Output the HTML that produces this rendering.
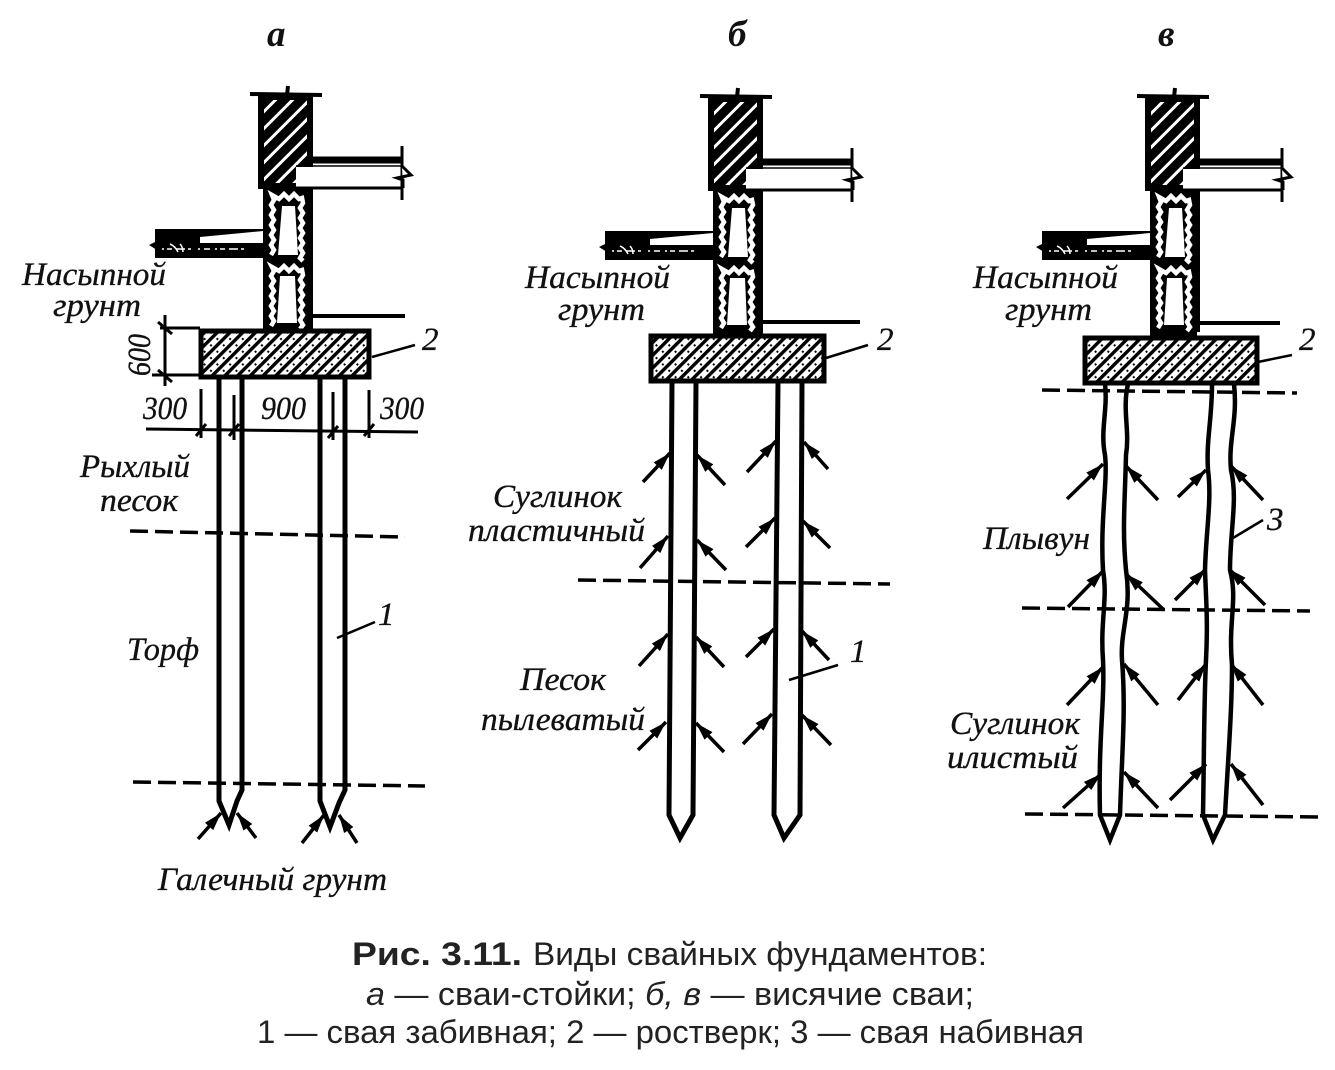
<!DOCTYPE html>
<html><head><meta charset="utf-8"><style>html,body{margin:0;padding:0;background:#fff}svg{display:block}
.l{font-family:"Liberation Serif",serif;font-style:italic;font-size:33px;fill:#111;stroke:#111;stroke-width:.35}
.c{font-family:"Liberation Sans",sans-serif;font-size:32px;fill:#222}
.h{font-family:"Liberation Serif",serif;font-style:italic;font-weight:bold;font-size:37px;fill:#111}
.a{stroke:#000;stroke-width:3.5;fill:none;marker-end:url(#ah)}
.d{stroke:#000;stroke-width:3.5;fill:none;stroke-dasharray:18 7}
</style></head><body>
<svg width="1335" height="1070" viewBox="0 0 1335 1070" xmlns="http://www.w3.org/2000/svg">
<defs>
<marker id="ah" viewBox="0 0 18 12" refX="18" refY="6" markerWidth="18" markerHeight="12" markerUnits="userSpaceOnUse" orient="auto"><path d="M0 0.5L18 6L0 11.5Z" fill="#000"/></marker>
<pattern id="brick" width="12" height="12" patternUnits="userSpaceOnUse" patternTransform="rotate(-45)"><rect width="12" height="12" fill="#000"/><rect width="12" height="3" fill="#fff"/></pattern>
<pattern id="conc" width="9" height="9" patternUnits="userSpaceOnUse" patternTransform="rotate(-45)"><rect width="9" height="9" fill="#fff"/><rect width="9" height="3.4" fill="#000"/><rect x="3" y="5.4" width="2" height="2" fill="#000"/></pattern>
<g id="wall">
<path d="M250 94L322 95" stroke="#000" stroke-width="4"/>
<path d="M288 86L287 95" stroke="#000" stroke-width="4"/>
<rect x="258" y="94" width="55" height="95" fill="#000"/>
<rect x="264" y="100" width="43" height="83" fill="url(#brick)"/>
<rect x="296" y="167" width="105" height="20" fill="#fff"/>
<path d="M296 166H402" stroke="#000" stroke-width="1.5"/>
<path d="M313 160H402" stroke="#000" stroke-width="7"/>
<path d="M296 188H402" stroke="#000" stroke-width="3"/>
<rect x="263" y="188" width="50" height="142" fill="#000"/>
<g fill="none" stroke="#fff" stroke-width="4.5">
<path d="M271 255l3-5-3-5 3-5-3-5 3-5-3-5 3-5-3-5 3-5-3-5 3-5-2-5 7 4 5-5 5 5 5-5 5 5 3-1 1 5-3 5 3 5-3 5 3 5-3 5 3 5-3 5 3 5-3 5 3 5-3 5 3 3"/>
<path d="M271 326l3-5-3-5 3-5-3-5 3-5-3-5 3-5-3-5 3-5-3-5 3-5-2-4 7 4 5-5 5 5 5-5 5 5 3-1 1 5-3 5 3 5-3 5 3 5-3 5 3 5-3 5 3 5-3 5 3 5-3 4"/>
</g>
<path d="M282 206H295L298 255H278Z" fill="#fff"/>
<path d="M280 276H295L297 323H277Z" fill="#fff"/>
<rect x="155" y="229" width="110" height="29" fill="#000"/>
<path d="M149 245l8-4v9z" fill="#000"/>
<path d="M200 237L263 231V243H200Z" fill="#fff"/>
<path d="M162 249H250" stroke="#fff" stroke-width="1.5" stroke-dasharray="2 3 5 4 9 3 3 7 2 4 6 5"/>
<path d="M170 244q5 2 8 8M180 244q3 3 3 8" fill="none" stroke="#fff" stroke-width="1.5"/>
</g>
<g id="brk"><path d="M0 146V200" stroke="#000" stroke-width="3"/><path d="M0 166L9 175L-5 178L1 180V188" fill="#fff" stroke="#000" stroke-width="3"/></g>
</defs>
<rect width="1335" height="1070" fill="#fff"/>

<text class="h" x="267" y="46">а</text><text class="h" x="728" y="46">б</text><text class="h" x="1158" y="46">в</text>

<!-- panel a -->
<use href="#wall"/>
<use href="#brk" x="402"/>
<path d="M313 316H405" stroke="#000" stroke-width="4" fill="none"/>
<rect x="201" y="331" width="168" height="46" fill="url(#conc)" stroke="#000" stroke-width="5"/>
<path fill="none" stroke="#000" stroke-width="5" d="M219 378V801L229 825L237 801L242 790V378M320 378V801L330 827L339 803L345 790V378"/>
<g stroke="#000" fill="none">
<path d="M372 357L415 345" stroke-width="2.5"/>
<path d="M160 328H200M152 375H200M165 315V386M158 322L172 334M158 370L172 382" stroke-width="3"/>
<path d="M146 429L418 432" stroke-width="3"/>
<path d="M201 389V438M234 395V440M333 392V440M369 390V438M196 436L206 424M229 436L239 424M328 438L338 426M364 436L374 424" stroke-width="3"/>
<path d="M337 638L375 622" stroke-width="2.5"/>
</g>
<path class="d" d="M130 531L405 537"/>
<path class="d" d="M133 782L425 786"/>
<path class="a" d="M198 839L221 813"/><path class="a" d="M256 838L237 813"/><path class="a" d="M302 843L324 815"/><path class="a" d="M357 843L339 815"/>
<text class="l" x="22" y="285" textLength="144" lengthAdjust="spacingAndGlyphs">Насыпной</text>
<text class="l" x="53" y="316" textLength="88" lengthAdjust="spacingAndGlyphs">грунт</text>
<text class="l" transform="translate(150,376) rotate(-90)" textLength="42" lengthAdjust="spacingAndGlyphs">600</text>
<text class="l" x="143" y="419" textLength="44" lengthAdjust="spacingAndGlyphs">300</text>
<text class="l" x="261" y="419" textLength="45" lengthAdjust="spacingAndGlyphs">900</text>
<text class="l" x="380" y="419" textLength="44" lengthAdjust="spacingAndGlyphs">300</text>
<text class="l" x="80" y="477" textLength="110" lengthAdjust="spacingAndGlyphs">Рыхлый</text>
<text class="l" x="100" y="511" textLength="78" lengthAdjust="spacingAndGlyphs">песок</text>
<text class="l" x="127" y="660" textLength="72" lengthAdjust="spacingAndGlyphs">Торф</text>
<text class="l" x="378" y="625">1</text>
<text class="l" x="422" y="350">2</text>
<text class="l" x="158" y="890" textLength="229" lengthAdjust="spacingAndGlyphs">Галечный грунт</text>

<!-- panel b -->
<rect x="713" y="325" width="50" height="12" fill="#000"/>
<use href="#wall" x="450" y="2"/>
<use href="#brk" x="852" y="2"/>
<path d="M763 322H860" stroke="#000" stroke-width="4"/>
<rect x="651" y="336" width="173" height="45" fill="url(#conc)" stroke="#000" stroke-width="5"/>
<path fill="none" stroke="#000" stroke-width="5" d="M672 382L669 815L680 838L693 815L696 382M778 382L774 815L784 838L800 815L802 382"/>
<path class="d" d="M578 580L890 584"/>
<g stroke="#000" fill="none"><path d="M826 358L868 345" stroke-width="2.5"/><path d="M789 680L838 665" stroke-width="2.5"/></g>
<path class="a" d="M643 482L670 453"/><path class="a" d="M725 485L697 455"/><path class="a" d="M747 472L776 441"/><path class="a" d="M828 469L804 442"/>
<path class="a" d="M640 568L668 536"/><path class="a" d="M726 570L697 540"/><path class="a" d="M746 547L775 518"/><path class="a" d="M830 548L803 521"/>
<path class="a" d="M639 666L668 634"/><path class="a" d="M724 667L696 637"/><path class="a" d="M746 657L774 629"/><path class="a" d="M829 660L802 631"/>
<path class="a" d="M638 750L666 722"/><path class="a" d="M724 752L696 723"/><path class="a" d="M743 744L772 714"/><path class="a" d="M831 745L802 715"/>
<text class="l" x="525" y="288" textLength="145" lengthAdjust="spacingAndGlyphs">Насыпной</text>
<text class="l" x="558" y="320" textLength="87" lengthAdjust="spacingAndGlyphs">грунт</text>
<text class="l" x="877" y="350">2</text>
<text class="l" x="493" y="507" textLength="129" lengthAdjust="spacingAndGlyphs">Суглинок</text>
<text class="l" x="468" y="541" textLength="177" lengthAdjust="spacingAndGlyphs">пластичный</text>
<text class="l" x="520" y="690" textLength="86" lengthAdjust="spacingAndGlyphs">Песок</text>
<text class="l" x="481" y="730" textLength="164" lengthAdjust="spacingAndGlyphs">пылеватый</text>
<text class="l" x="850" y="662">1</text>

<!-- panel v -->
<rect x="1150" y="325" width="47" height="14" fill="#000"/>
<use href="#wall" x="887" y="2"/>
<rect x="1283" y="140" width="12" height="65" fill="#fff"/>
<use href="#brk" x="1282" y="2"/>
<path d="M1197 323H1280" stroke="#000" stroke-width="4"/>
<rect x="1085" y="338" width="172" height="45" fill="url(#conc)" stroke="#000" stroke-width="5"/>
<g fill="none" stroke="#000" stroke-width="4.5">
<path d="M1105 384C1108 410 1100 430 1105 455C1108 480 1100 520 1103 570C1108 600 1100 620 1103 660C1105 700 1098 740 1100 815L1110 840L1120 815C1122 750 1126 710 1122 660C1120 630 1132 610 1126 570C1122 530 1125 500 1126 455C1130 430 1122 410 1128 384"/>
<path d="M1212 384C1212 420 1206 440 1208 470C1212 500 1206 530 1205 570C1206 600 1208 620 1206 660C1204 700 1204 760 1203 815L1213 840L1225 815C1228 760 1232 710 1232 665C1228 620 1238 600 1230 570C1230 530 1238 500 1231 470C1228 440 1238 420 1234 384"/>
</g>
<path class="d" d="M1042 390L1297 393"/>
<path class="d" d="M1022 608L1310 611"/>
<path class="d" d="M1025 814L1322 817"/>
<g stroke="#000" fill="none"><path d="M1258 362L1292 355" stroke-width="2.5"/><path d="M1233 538L1263 520" stroke-width="2.5"/></g>
<path class="a" d="M1067 499L1103 464"/><path class="a" d="M1158 500L1126 466"/><path class="a" d="M1178 497L1206 470"/><path class="a" d="M1263 500L1231 466"/>
<path class="a" d="M1068 607L1103 571"/><path class="a" d="M1163 609L1126 574"/><path class="a" d="M1175 600L1206 569"/><path class="a" d="M1265 605L1229 569"/>
<path class="a" d="M1067 705L1103 667"/><path class="a" d="M1158 705L1124 664"/><path class="a" d="M1178 700L1206 664"/><path class="a" d="M1263 705L1231 664"/>
<path class="a" d="M1063 808L1101 774"/><path class="a" d="M1158 808L1124 772"/><path class="a" d="M1170 800L1206 764"/><path class="a" d="M1263 805L1231 764"/>
<text class="l" x="973" y="288" textLength="145" lengthAdjust="spacingAndGlyphs">Насыпной</text>
<text class="l" x="1005" y="320" textLength="87" lengthAdjust="spacingAndGlyphs">грунт</text>
<text class="l" x="1299" y="350">2</text>
<text class="l" x="983" y="549" textLength="107" lengthAdjust="spacingAndGlyphs">Плывун</text>
<text class="l" x="950" y="734" textLength="130" lengthAdjust="spacingAndGlyphs">Суглинок</text>
<text class="l" x="947" y="768" textLength="131" lengthAdjust="spacingAndGlyphs">илистый</text>
<text class="l" x="1267" y="530">3</text>

<!-- caption -->
<text class="c" x="352" y="965" style="font-weight:bold" textLength="170" lengthAdjust="spacingAndGlyphs">Рис. 3.11.</text>
<text class="c" x="533" y="965" textLength="454" lengthAdjust="spacingAndGlyphs">Виды свайных фундаментов:</text>
<text class="c" x="366" y="1005" textLength="608" lengthAdjust="spacingAndGlyphs"><tspan font-style="italic">а</tspan> — сваи-стойки; <tspan font-style="italic">б, в</tspan> — висячие сваи;</text>
<text class="c" x="257" y="1043" textLength="827" lengthAdjust="spacingAndGlyphs">1 — свая забивная; 2 — ростверк; 3 — свая набивная</text>
</svg>
</body></html>
